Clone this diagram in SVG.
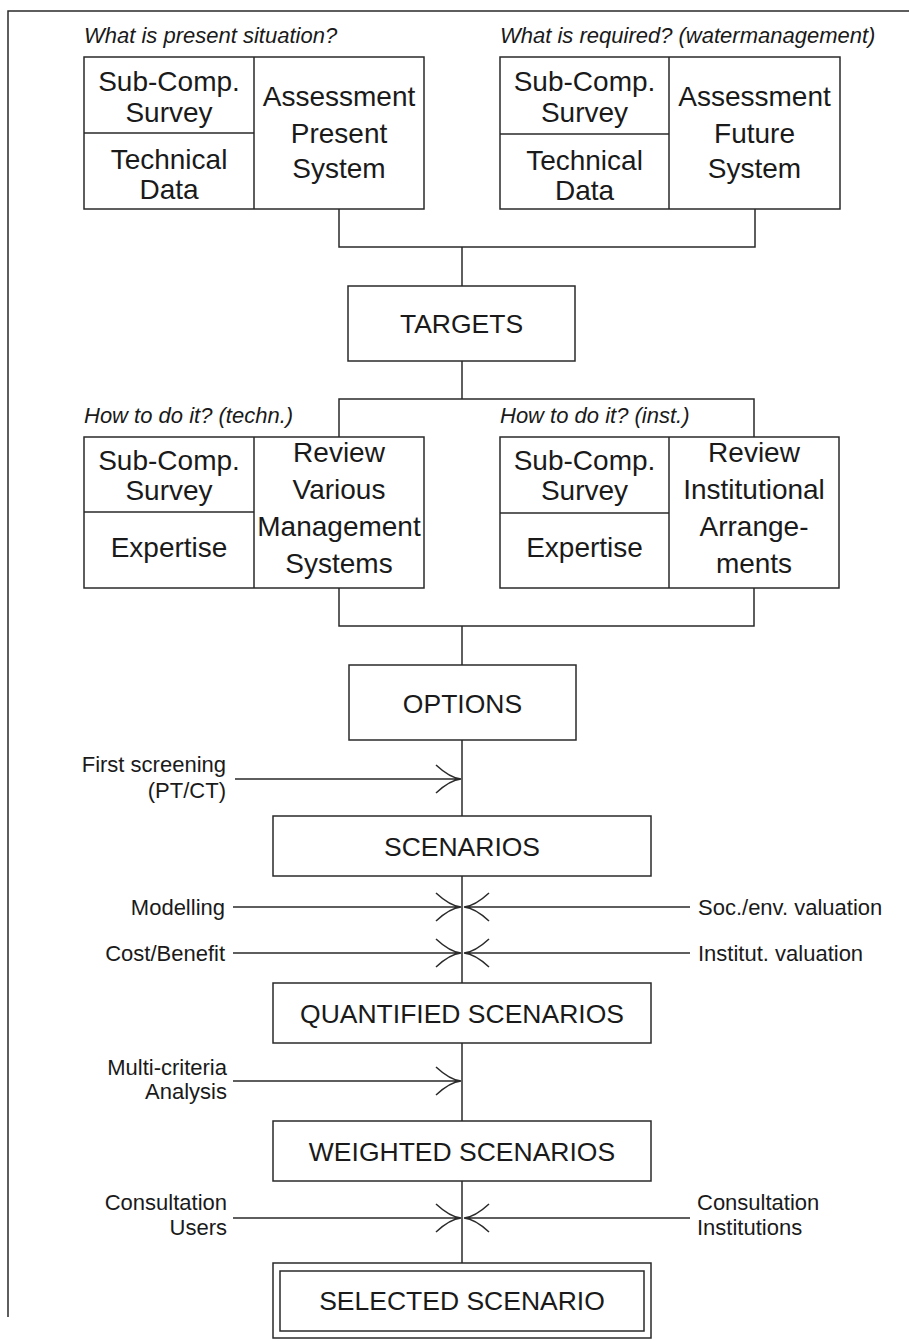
<svg xmlns="http://www.w3.org/2000/svg" width="909" height="1341" viewBox="0 0 909 1341">
<style>
  .b{fill:#fff;stroke:#2a2a2a;stroke-width:1.5}
  .l{fill:none;stroke:#2a2a2a;stroke-width:1.5}
  .t{font-family:"Liberation Sans",Arial,sans-serif;fill:#1a1a1a}
  .cell{font-size:28px;text-anchor:middle}
  .cap{font-size:22px;font-style:italic}
  .lab{font-size:26.5px;text-anchor:middle}
  .sm{font-size:22px}
  .r{text-anchor:end}
</style>
<rect width="909" height="1341" fill="#fff"/>
<g id="frame">
  <path class="l" d="M8,1317 V11 H909"/>
</g>
<g id="connectors">
  <path class="l" d="M339,209 V247 H755 V209"/>
  <path class="l" d="M462,247 V286"/>
  <path class="l" d="M462,361 V399"/>
  <path class="l" d="M339,437 V399 H754 V437"/>
  <path class="l" d="M339,588 V626 H754 V588"/>
  <path class="l" d="M462,626 V665"/>
  <path class="l" d="M462,740 V816"/>
  <path class="l" d="M462,876 V983"/>
  <path class="l" d="M462,1043 V1121"/>
  <path class="l" d="M462,1181 V1263"/>
  <!-- input arrows -->
  <path class="l" d="M235,779 H461 M436,765 Q450,778 461,779 Q450,780 436,793"/>
  <path class="l" d="M233,907 H461 M436,893 Q450,906 461,907 Q450,908 436,921"/>
  <path class="l" d="M690,907 H464 M489,893 Q475,906 464,907 Q475,908 489,921"/>
  <path class="l" d="M233,953 H461 M436,939 Q450,952 461,953 Q450,954 436,967"/>
  <path class="l" d="M690,953 H464 M489,939 Q475,952 464,953 Q475,954 489,967"/>
  <path class="l" d="M233,1081 H461 M436,1067 Q450,1080 461,1081 Q450,1082 436,1095"/>
  <path class="l" d="M233,1218 H461 M436,1204 Q450,1217 461,1218 Q450,1219 436,1232"/>
  <path class="l" d="M690,1218 H464 M489,1204 Q475,1217 464,1218 Q475,1219 489,1232"/>
</g>
<g id="present">
  <text class="t cap" x="84" y="43">What is present situation?</text>
  <rect class="b" x="84" y="57" width="340" height="152"/>
  <path class="l" d="M254,57 V209 M84,133 H254"/>
  <text class="t cell" x="169" y="91">Sub-Comp.</text>
  <text class="t cell" x="169" y="122">Survey</text>
  <text class="t cell" x="169" y="169">Technical</text>
  <text class="t cell" x="169" y="199">Data</text>
  <text class="t cell" x="339" y="106">Assessment</text>
  <text class="t cell" x="339" y="143">Present</text>
  <text class="t cell" x="339" y="178">System</text>
</g>
<g id="required">
  <text class="t cap" x="500" y="43">What is required? (watermanagement)</text>
  <rect class="b" x="500" y="57" width="340" height="152"/>
  <path class="l" d="M669,57 V209 M500,134 H669"/>
  <text class="t cell" x="584.5" y="91">Sub-Comp.</text>
  <text class="t cell" x="584.5" y="122">Survey</text>
  <text class="t cell" x="584.5" y="170">Technical</text>
  <text class="t cell" x="584.5" y="200">Data</text>
  <text class="t cell" x="754.5" y="106">Assessment</text>
  <text class="t cell" x="754.5" y="143">Future</text>
  <text class="t cell" x="754.5" y="178">System</text>
</g>
<g id="targets">
  <rect class="b" x="348" y="286" width="227" height="75"/>
  <text class="t lab" x="461.5" y="333">TARGETS</text>
</g>
<g id="techn">
  <text class="t cap" x="84" y="423">How to do it? (techn.)</text>
  <rect class="b" x="84" y="437" width="340" height="151"/>
  <path class="l" d="M254,437 V588 M84,512 H254"/>
  <text class="t cell" x="169" y="470">Sub-Comp.</text>
  <text class="t cell" x="169" y="500">Survey</text>
  <text class="t cell" x="169" y="557">Expertise</text>
  <text class="t cell" x="339" y="462">Review</text>
  <text class="t cell" x="339" y="499">Various</text>
  <text class="t cell" x="339" y="536">Management</text>
  <text class="t cell" x="339" y="573">Systems</text>
</g>
<g id="inst">
  <text class="t cap" x="500" y="423">How to do it? (inst.)</text>
  <rect class="b" x="500" y="437" width="339" height="151"/>
  <path class="l" d="M669,437 V588 M500,513 H669"/>
  <text class="t cell" x="584.5" y="470">Sub-Comp.</text>
  <text class="t cell" x="584.5" y="500">Survey</text>
  <text class="t cell" x="584.5" y="557">Expertise</text>
  <text class="t cell" x="754" y="462">Review</text>
  <text class="t cell" x="754" y="499">Institutional</text>
  <text class="t cell" x="754" y="536">Arrange-</text>
  <text class="t cell" x="754" y="573">ments</text>
</g>
<g id="options">
  <rect class="b" x="349" y="665" width="227" height="75"/>
  <text class="t lab" x="462.5" y="713">OPTIONS</text>
</g>
<g id="first-screening">
  <text class="t sm r" x="226" y="772">First screening</text>
  <text class="t sm r" x="226" y="798">(PT/CT)</text>
</g>
<g id="scenarios">
  <rect class="b" x="273" y="816" width="378" height="60"/>
  <text class="t lab" x="462" y="856">SCENARIOS</text>
</g>
<g id="inputs-quant">
  <text class="t sm r" x="225" y="915">Modelling</text>
  <text class="t sm r" x="225" y="961">Cost/Benefit</text>
  <text class="t sm" x="698" y="915">Soc./env. valuation</text>
  <text class="t sm" x="698" y="961">Institut. valuation</text>
</g>
<g id="quantified">
  <rect class="b" x="273" y="983" width="378" height="60"/>
  <text class="t lab" x="462" y="1023">QUANTIFIED SCENARIOS</text>
</g>
<g id="multi-criteria">
  <text class="t sm r" x="227" y="1075">Multi-criteria</text>
  <text class="t sm r" x="227" y="1099">Analysis</text>
</g>
<g id="weighted">
  <rect class="b" x="273" y="1121" width="378" height="60"/>
  <text class="t lab" x="462" y="1161">WEIGHTED SCENARIOS</text>
</g>
<g id="consultation">
  <text class="t sm r" x="227" y="1210">Consultation</text>
  <text class="t sm r" x="227" y="1235">Users</text>
  <text class="t sm" x="697" y="1210">Consultation</text>
  <text class="t sm" x="697" y="1235">Institutions</text>
</g>
<g id="selected">
  <rect class="b" x="273" y="1263" width="378" height="75"/>
  <rect class="b" x="280" y="1271" width="364" height="60"/>
  <text class="t lab" x="462" y="1310">SELECTED SCENARIO</text>
</g>
</svg>
